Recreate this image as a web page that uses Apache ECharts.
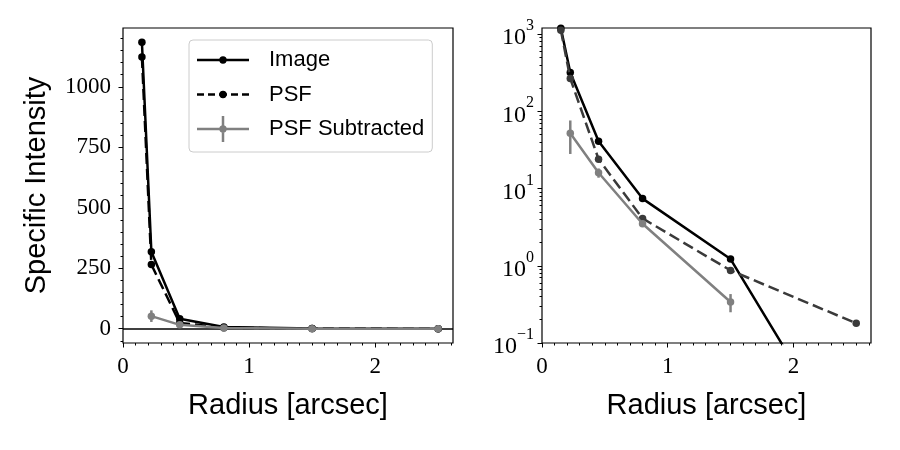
<!DOCTYPE html>
<html>
<head>
<meta charset="utf-8">
<script src="https://cdn.jsdelivr.net/npm/echarts@6/dist/echarts.min.js"></script>
<style>
  html, body { margin: 0; padding: 0; background: #fff; }
  #chart { width: 900px; height: 450px; }
</style>
</head>
<body>
<div id="chart"></div>
<script>
// radial profiles (radius in arcsec)
const radius = [0.15, 0.225, 0.45, 0.8, 1.5, 2.5]
const imageProfile = [1184, 318, 41, 7.4, 1.22, 0.0025]
const psfProfile = [1123, 265, 24, 4.1, 0.87, 0.18]
const subRadius = [0.225, 0.45, 0.8, 1.5, 2.5]
const subProfile = [52, 16, 3.5, 0.34, -0.18]
const subError = [24, 2.2, 0.3, 0.09, 0.05]

// tick labels
const xTicks = [0, 1, 2]
const linTicks = [0, 250, 500, 750, 1000]
const logTicks = [-1, 0, 1, 2, 3]

const SANS = 'Liberation Sans'
const SERIF = 'Liberation Serif'
const GRAY = '#808080'
const X_MAX = 2.6175
const LW = 2.5

const xMinor = []
for (let i = 1; i <= 26; i++) if (i % 10) xMinor.push(i / 10)
const linMinor = []
for (let v = -50; v <= 1200; v += 50) if (v % 250) linMinor.push(v)
const logMinor = []
for (let n = -1; n < 3; n++) {
  for (let k = 2; k <= 9; k++) logMinor.push(n + Math.log10(k))
}

const log = v => (v > 0 ? Math.log10(v) : null)
const pairs = (xs, ys) => xs.map((x, i) => [x, ys[i]])

const tickStyle = { color: '#000', width: 1 }
const nameStyle = { fontFamily: SANS, fontSize: 29, color: '#000' }
const noLine = { show: false, onZero: false }

function xAxes (grid) {
  return [{
    type: 'value', gridIndex: grid, position: 'bottom', min: 0, max: X_MAX,
    axisLine: noLine, splitLine: { show: false },
    axisTick: { customValues: xTicks, length: 4.5, lineStyle: tickStyle },
    axisLabel: { customValues: xTicks, margin: 12, fontFamily: SERIF, fontSize: 23, color: '#000' },
    name: 'Radius [arcsec]', nameLocation: 'middle', nameGap: 48, nameTextStyle: nameStyle
  }, {
    type: 'value', gridIndex: grid, position: 'bottom', min: 0, max: X_MAX,
    axisLine: noLine, splitLine: { show: false }, axisLabel: { show: false },
    axisTick: { customValues: xMinor, length: 2.5, lineStyle: tickStyle }
  }]
}

function errorBar (params, api) {
  const x = api.value(0)
  const lo = api.coord([x, api.value(1)])
  const hi = api.coord([x, api.value(2)])
  return {
    type: 'line',
    shape: { x1: lo[0], y1: lo[1], x2: hi[0], y2: hi[1] },
    style: { stroke: GRAY, lineWidth: LW }
  }
}

// legend icons, drawn in a 52 x 26 box
const corners = 'M0,0 L0.01,0 L0,0.01 Z M52,26 L51.99,26 L52,25.99 Z '
const dot = 'M29.7,13 A3.7,3.7 0 1,1 22.3,13 A3.7,3.7 0 1,1 29.7,13 Z '
const solidIcon = 'path://' + corners + 'M0,11.75 L52,11.75 L52,14.25 L0,14.25 Z ' + dot
const dashedIcon = 'path://' + corners +
  'M0,11.75 L7,11.75 L7,14.25 L0,14.25 Z M11,11.75 L18,11.75 L18,14.25 L11,14.25 Z ' +
  'M22,11.75 L30,11.75 L30,14.25 L22,14.25 Z M34,11.75 L41,11.75 L41,14.25 L34,14.25 Z ' +
  'M45,11.75 L52,11.75 L52,14.25 L45,14.25 Z ' + dot
const errIcon = 'path://' + corners + 'M0,11.75 L52,11.75 L52,14.25 L0,14.25 Z ' +
  'M24.75,0 L27.25,0 L27.25,26 L24.75,26 Z ' + dot

const chart = echarts.init(document.getElementById('chart'), null, { renderer: 'canvas' })
chart.setOption({
  animation: false,
  backgroundColor: '#fff',
  grid: [
    { left: 123, top: 28, width: 330, height: 315, show: true, borderColor: '#000', borderWidth: 1.2 },
    { left: 542, top: 28, width: 329, height: 315, show: true, borderColor: '#000', borderWidth: 1.2 }
  ],
  legend: {
    left: 189, top: 40, orient: 'vertical',
    padding: [7, 8, 10, 8], itemGap: 8.5, itemWidth: 52, itemHeight: 26,
    backgroundColor: 'rgba(255,255,255,0.8)', borderColor: '#cccccc', borderWidth: 1, borderRadius: 4,
    selectedMode: false,
    itemStyle: { borderWidth: 0 },
    textStyle: { fontFamily: SANS, fontSize: 22, color: '#000', padding: [0, 0, 0, 15] },
    data: [
      { name: 'Image', icon: solidIcon },
      { name: 'PSF', icon: dashedIcon },
      { name: 'PSF Subtracted', icon: errIcon }
    ]
  },
  xAxis: [...xAxes(0), ...xAxes(1)],
  yAxis: [{
    type: 'value', gridIndex: 0, position: 'left', min: -59, max: 1243,
    axisLine: noLine, splitLine: { show: false },
    axisTick: { customValues: linTicks, length: 4.5, lineStyle: tickStyle },
    axisLabel: {
      customValues: linTicks, margin: 12, fontFamily: SERIF, fontSize: 23, color: '#000',
      formatter: v => String(v)
    },
    name: 'Specific Intensity', nameLocation: 'middle', nameGap: 72, nameTextStyle: nameStyle
  }, {
    type: 'value', gridIndex: 0, position: 'left', min: -59, max: 1243,
    axisLine: noLine, splitLine: { show: false }, axisLabel: { show: false },
    axisTick: { customValues: linMinor, length: 2.5, lineStyle: tickStyle }
  }, {
    type: 'value', gridIndex: 1, position: 'left', min: -1, max: 3.078,
    axisLine: noLine, splitLine: { show: false },
    axisTick: { customValues: logTicks, length: 4.5, lineStyle: tickStyle },
    axisLabel: {
      customValues: logTicks, margin: 8, color: '#000',
      formatter: v => {
        const n = Math.round(v)
        return '{b|10}{s|' + (n < 0 ? '\u2212' + (-n) : n) + '}'
      },
      rich: {
        b: { fontFamily: SERIF, fontSize: 24, lineHeight: 32, verticalAlign: 'bottom', color: '#000' },
        s: { fontFamily: SERIF, fontSize: 16, lineHeight: 16, verticalAlign: 'top', color: '#000' }
      }
    }
  }, {
    type: 'value', gridIndex: 1, position: 'left', min: -1, max: 3.078,
    axisLine: noLine, splitLine: { show: false }, axisLabel: { show: false },
    axisTick: { customValues: logMinor, length: 2.5, lineStyle: tickStyle }
  }],
  series: [
    // linear panel
    {
      name: 'Image', type: 'line', xAxisIndex: 0, yAxisIndex: 0, z: 2,
      data: pairs(radius, imageProfile),
      symbol: 'circle', symbolSize: 7.5,
      lineStyle: { color: '#000', width: LW }, itemStyle: { color: '#000' },
      markLine: {
        silent: true, z: 1, symbol: ['none', 'none'], label: { show: false },
        lineStyle: { color: '#000', width: 1.5, type: 'solid' },
        data: [{ yAxis: 0 }]
      }
    },
    {
      name: 'PSF', type: 'line', xAxisIndex: 0, yAxisIndex: 0, z: 3,
      data: pairs(radius, psfProfile),
      symbol: 'circle', symbolSize: 7.5,
      lineStyle: { color: '#000', width: LW, type: [11, 5] }, itemStyle: { color: '#000' }
    },
    {
      name: 'PSF Subtracted', type: 'line', xAxisIndex: 0, yAxisIndex: 0, z: 4,
      data: pairs(subRadius, subProfile),
      symbol: 'circle', symbolSize: 7.5,
      lineStyle: { color: GRAY, width: LW }, itemStyle: { color: GRAY }
    },
    {
      name: 'PSF Subtracted', type: 'custom', xAxisIndex: 0, yAxisIndex: 0, z: 4, clip: true,
      renderItem: errorBar,
      data: subRadius.map((r, i) => [r, subProfile[i] - subError[i], subProfile[i] + subError[i]])
    },
    // log panel
    {
      name: 'Image', type: 'line', xAxisIndex: 2, yAxisIndex: 2, z: 2, clip: true,
      data: pairs(radius, imageProfile.map(log)),
      symbol: 'circle', symbolSize: 7.5,
      lineStyle: { color: '#000', width: LW }, itemStyle: { color: '#000' }
    },
    {
      name: 'PSF', type: 'line', xAxisIndex: 2, yAxisIndex: 2, z: 3, clip: true,
      data: pairs(radius, psfProfile.map(log)),
      symbol: 'circle', symbolSize: 7.5,
      lineStyle: { color: '#3a3a3a', width: LW, type: [11, 5] }, itemStyle: { color: '#3a3a3a' }
    },
    {
      name: 'PSF Subtracted', type: 'line', xAxisIndex: 2, yAxisIndex: 2, z: 4, clip: true,
      data: pairs(subRadius, subProfile.map(log)),
      symbol: 'circle', symbolSize: 7.5,
      lineStyle: { color: GRAY, width: LW }, itemStyle: { color: GRAY }
    },
    {
      name: 'PSF Subtracted', type: 'custom', xAxisIndex: 2, yAxisIndex: 2, z: 4, clip: true,
      renderItem: errorBar,
      data: subRadius
        .map((r, i) => [r, log(subProfile[i] - subError[i]), log(subProfile[i] + subError[i])])
        .filter(d => d[1] !== null && d[2] !== null)
    }
  ]
})
</script>
</body>
</html>
